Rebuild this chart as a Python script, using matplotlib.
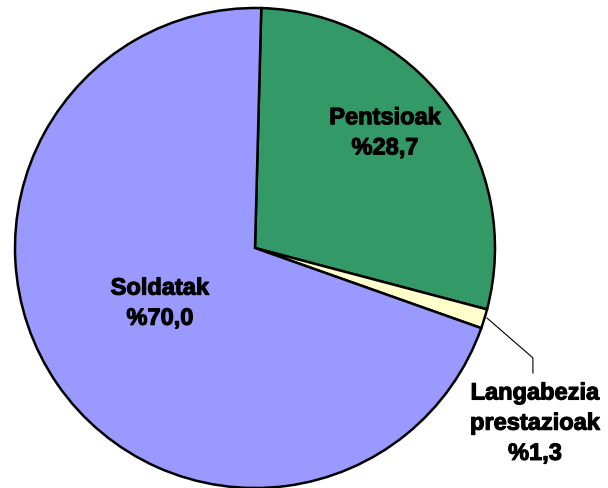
import matplotlib.pyplot as plt
import matplotlib.patheffects as pe

labels = ["Pentsioak", "Langabezia\nprestazioak", "Soldatak"]
values = [28.7, 1.3, 70.0]
pct_text = ["%28,7", "%1,3", "%70,0"]
colors = ["#339966", "#FFFFCC", "#9999FF"]

plt.rcParams['font.family'] = ['Liberation Sans', 'DejaVu Sans']

fig = plt.figure(figsize=(6.08, 4.88), dpi=100)
ax = fig.add_axes([0, 0, 1, 1])

wedges, _ = ax.pie(values, colors=colors, startangle=88.5, counterclock=False,
                   radius=1.0, center=(0, 0),
                   wedgeprops=dict(edgecolor="black", linewidth=1.8))

heavy = [pe.withStroke(linewidth=0.8, foreground="black")]
style = dict(ha="center", va="center", fontsize=17, fontweight="bold",
             linespacing=1.4, path_effects=heavy)

# inside labels
ax.text(0.542, 0.48, labels[0] + "\n" + pct_text[0], **style)
ax.text(-0.396, -0.23, labels[2] + "\n" + pct_text[2], **style)

# small slice label with leader line
ax.plot([0.967, 1.158, 1.158], [-0.292, -0.458, -0.521], color="black", linewidth=0.8)
ax.text(1.167, -0.73, labels[1] + "\n" + pct_text[1], **style)

ax.set_xlim(-255 / 240, (608 - 255) / 240)
ax.set_ylim(-(488 - 248) / 240, 248 / 240)
ax.set_aspect("equal")
ax.axis("off")

fig.savefig("out.png", dpi=100)
